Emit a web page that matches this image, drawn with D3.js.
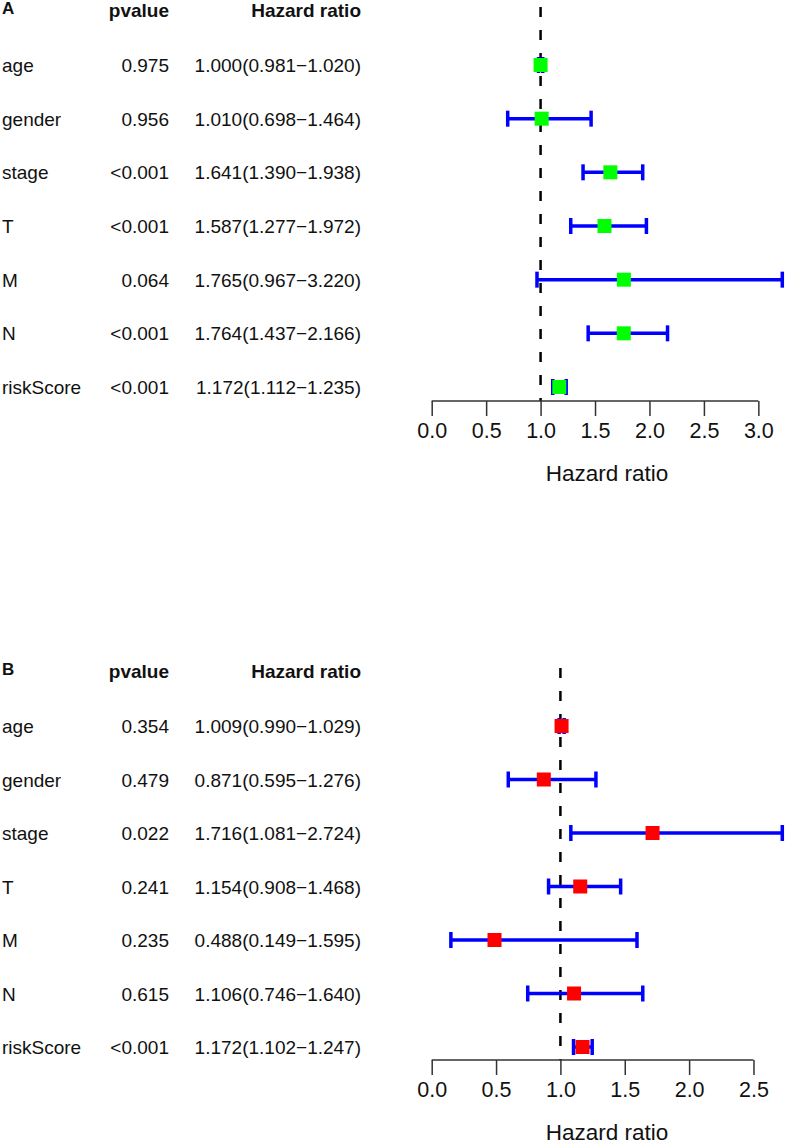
<!DOCTYPE html>
<html>
<head>
<meta charset="utf-8">
<script src="https://cdn.jsdelivr.net/npm/d3@7"></script>
<style>
  html, body { margin: 0; padding: 0; background: #fff; }
  svg { display: block; font-family: "Liberation Sans", Arial, sans-serif; }
</style>
</head>
<body>
<svg id="chart" width="787" height="1148"></svg>
<script>
// ---- Data ----
const variables = ["age", "gender", "stage", "T", "M", "N", "riskScore"];

// Panel A
const pvalueA = ["0.975", "0.956", "<0.001", "<0.001", "0.064", "<0.001", "<0.001"];
const hrA     = [1.000, 1.010, 1.641, 1.587, 1.765, 1.764, 1.172];
const lowerA  = [0.981, 0.698, 1.390, 1.277, 0.967, 1.437, 1.112];
const upperA  = [1.020, 1.464, 1.938, 1.972, 3.220, 2.166, 1.235];
const ticksA  = [0.0, 0.5, 1.0, 1.5, 2.0, 2.5, 3.0];

// Panel B
const pvalueB = ["0.354", "0.479", "0.022", "0.241", "0.235", "0.615", "<0.001"];
const hrB     = [1.009, 0.871, 1.716, 1.154, 0.488, 1.106, 1.172];
const lowerB  = [0.990, 0.595, 1.081, 0.908, 0.149, 0.746, 1.102];
const upperB  = [1.029, 1.276, 2.724, 1.468, 1.595, 1.640, 1.247];
const ticksB  = [0.0, 0.5, 1.0, 1.5, 2.0, 2.5];

const svg = d3.select("#chart");
const fmt = d3.format(".3f");
const FONT = 19;

function drawPanel(opt) {
  const g = svg.append("g");
  const n = variables.length;
  const rows = variables.map((v, i) => ({
    name: v, p: opt.pvalue[i], hr: opt.hr[i], lo: opt.lower[i], hi: opt.upper[i], i
  }));

  const x = d3.scaleLinear()
    .domain([0, d3.max(opt.upper)])
    .range([431.7, 782.3]);
  const y = d3.scaleLinear()
    .domain([0, n - 1])
    .range([opt.yFirst, opt.yLast]);

  // Panel letter and headers
  g.append("text").attr("x", 2).attr("y", opt.yFirst - 51)
    .attr("font-size", 17).attr("font-weight", "bold").attr("fill", "#111").text(opt.letter);
  g.append("text").attr("x", 169).attr("y", opt.yFirst - 48)
    .attr("text-anchor", "end").attr("font-size", FONT).attr("font-weight", "bold")
    .attr("fill", "#111").text("pvalue");
  g.append("text").attr("x", 361).attr("y", opt.yFirst - 48)
    .attr("text-anchor", "end").attr("font-size", FONT).attr("font-weight", "bold")
    .attr("fill", "#111").text("Hazard ratio");

  // Table text
  const t = g.selectAll("g.row").data(rows).join("g").attr("class", "row")
    .attr("transform", d => `translate(0,${y(d.i) + 7})`)
    .attr("font-size", FONT).attr("fill", "#111");
  t.append("text").attr("x", 2).text(d => d.name);
  t.append("text").attr("x", 169).attr("text-anchor", "end").text(d => d.p);
  t.append("text").attr("x", 361).attr("text-anchor", "end")
    .text(d => `${fmt(d.hr)}(${fmt(d.lo)}\u2212${fmt(d.hi)})`);

  // Reference dashed line at HR = 1
  g.append("line")
    .attr("x1", x(1)).attr("x2", x(1))
    .attr("y1", opt.yFirst - 58).attr("y2", opt.axisY)
    .attr("stroke", "#000").attr("stroke-width", 2.5)
    .attr("stroke-dasharray", "10,13");

  // Error bars
  const capH = 8;
  const eb = g.selectAll("g.eb").data(rows).join("g").attr("class", "eb")
    .attr("stroke", "#0000ff").attr("stroke-width", 3.5).attr("fill", "none");
  eb.append("line")
    .attr("x1", d => x(d.lo)).attr("x2", d => x(d.hi))
    .attr("y1", d => y(d.i)).attr("y2", d => y(d.i));
  eb.append("line")
    .attr("x1", d => x(d.lo)).attr("x2", d => x(d.lo))
    .attr("y1", d => y(d.i) - capH).attr("y2", d => y(d.i) + capH);
  eb.append("line")
    .attr("x1", d => x(d.hi)).attr("x2", d => x(d.hi))
    .attr("y1", d => y(d.i) - capH).attr("y2", d => y(d.i) + capH);

  // Point estimates
  const s = 14;
  g.selectAll("rect.pt").data(rows).join("rect").attr("class", "pt")
    .attr("x", d => x(d.hr) - s / 2).attr("y", d => y(d.i) - s / 2)
    .attr("width", s).attr("height", s)
    .attr("fill", opt.color);

  // Axis
  const ax = d3.axisBottom(x)
    .tickValues(opt.ticks)
    .tickFormat(d3.format(".1f"))
    .tickSize(15)
    .tickSizeOuter(0);
  const axG = g.append("g").attr("transform", `translate(0,${opt.axisY})`).call(ax);
  axG.select(".domain").remove();
  axG.append("line")
    .attr("x1", x(opt.ticks[0])).attr("x2", x(opt.ticks[opt.ticks.length - 1]))
    .attr("y1", 0).attr("y2", 0)
    .attr("stroke", "#333").attr("stroke-width", 1.5);
  axG.selectAll(".tick line").attr("stroke", "#333").attr("stroke-width", 1.5);
  axG.selectAll(".tick text")
    .attr("y", 37).attr("dy", 0)
    .attr("font-size", 21.5).attr("fill", "#111")
    .attr("font-family", "Liberation Sans, Arial, sans-serif");

  // Axis title
  g.append("text")
    .attr("x", (x.range()[0] + x.range()[1]) / 2)
    .attr("y", opt.axisY + 80)
    .attr("text-anchor", "middle")
    .attr("font-size", 22.5).attr("fill", "#111")
    .text("Hazard ratio");
}

drawPanel({
  letter: "A", pvalue: pvalueA, hr: hrA, lower: lowerA, upper: upperA, ticks: ticksA,
  yFirst: 65, yLast: 387, axisY: 401, color: "#00ff00"
});
drawPanel({
  letter: "B", pvalue: pvalueB, hr: hrB, lower: lowerB, upper: upperB, ticks: ticksB,
  yFirst: 726, yLast: 1047, axisY: 1060, color: "#ff0000"
});
</script>
</body>
</html>
